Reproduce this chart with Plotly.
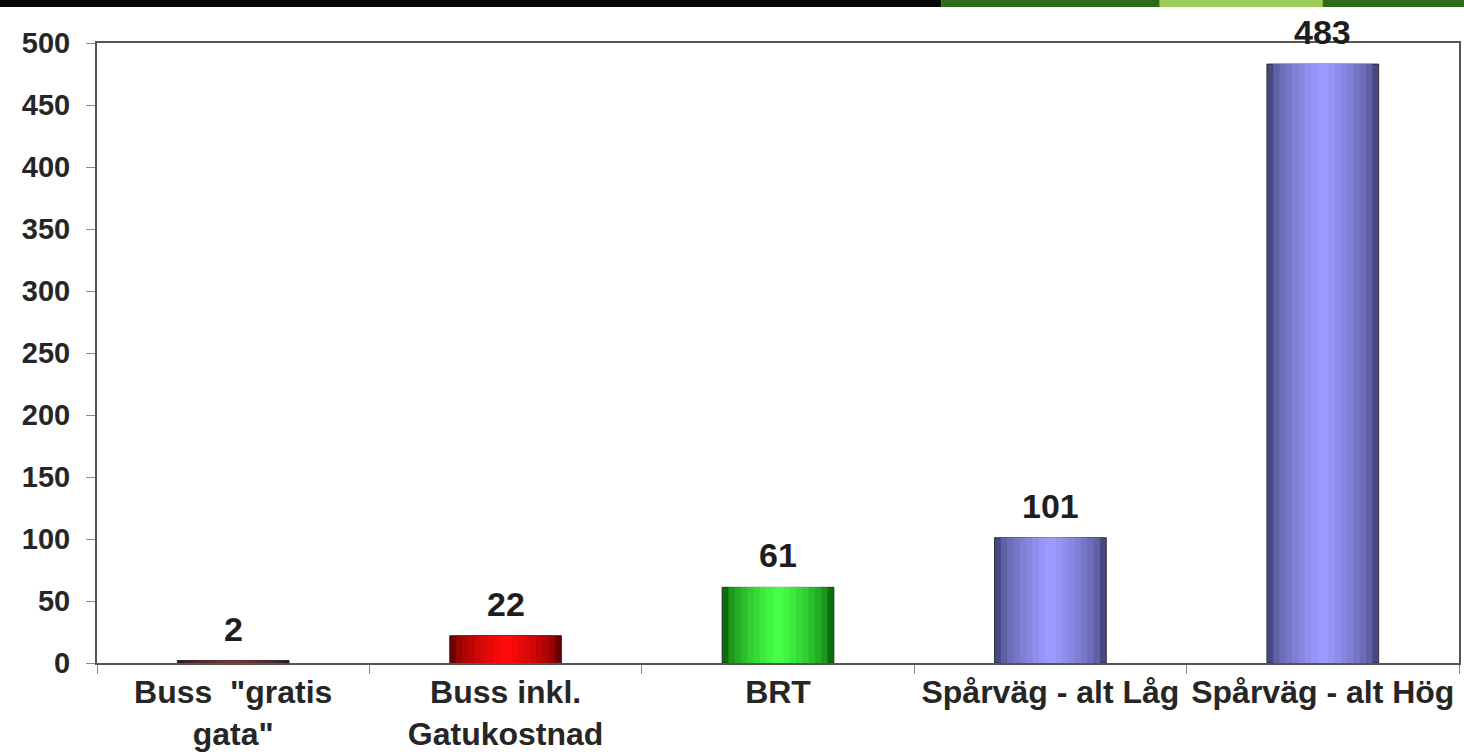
import plotly.graph_objects as go

categories = ['Buss  "gratis<br>gata"', 'Buss inkl.<br>Gatukostnad', 'BRT',
              'Spårväg - alt Låg', 'Spårväg - alt Hög']
values = [2, 22, 61, 101, 483]
labels = ['2', '22', '61', '101', '483']
y_ticks = [0, 50, 100, 150, 200, 250, 300, 350, 400, 450, 500]

# edge and centre colours for each bar (cylinder-like shading)
edge_rgb = [(50, 25, 25), (110, 0, 0), (10, 110, 10), (72, 72, 130), (72, 72, 130)]
center_rgb = [(115, 55, 55), (255, 10, 10), (70, 255, 70), (155, 155, 255), (155, 155, 255)]

FONT = 'Liberation Sans, Arial, sans-serif'
n_layers = 9
bar_w = 0.41

fig = go.Figure()
for i in range(n_layers):
    t = i / (n_layers - 1)
    w = bar_w * (1 - 0.9 * t)
    cols = []
    for e, c in zip(edge_rgb, center_rgb):
        rgb = tuple(round(ev + (cv - ev) * (t ** 0.6)) for ev, cv in zip(e, c))
        cols.append('rgb(%d,%d,%d)' % rgb)
    fig.add_trace(go.Bar(
        x=categories, y=values, width=w,
        marker=dict(color=cols, line=dict(width=1 if i == 0 else 0, color='#2a2a2a')),
        showlegend=False, hoverinfo='skip'))

for cat, v, lab in zip(categories, values, labels):
    fig.add_annotation(x=cat, y=v, text=lab, showarrow=False, yanchor='bottom',
                       yshift=11,
                       font=dict(family=FONT, size=34, color='#1e1e1e', weight='bold'))

fig.update_layout(
    barmode='overlay',
    width=1464, height=756,
    margin=dict(l=97, r=5, t=43, b=93),
    paper_bgcolor='white', plot_bgcolor='white',
    font=dict(family=FONT, color='#2a2a2a'),
    xaxis=dict(showline=True, linecolor='#555555', linewidth=2, mirror=True,
               ticks='outside', tickson='boundaries', ticklen=9, tickcolor='#888888',
               tickangle=0, automargin=False,
               tickfont=dict(family=FONT, size=32, color='#262626', weight='bold'),
               showgrid=False, range=[-0.5, 4.5]),
    yaxis=dict(range=[0, 500], tickvals=y_ticks, showline=True, linecolor='#555555',
               linewidth=2, mirror=True, ticks='outside', ticklen=9, tickcolor='#888888',
               ticklabelstandoff=10, automargin=False,
               tickfont=dict(family=FONT, size=29, color='#262626', weight='bold'),
               showgrid=False, zeroline=False),
    shapes=[
        dict(type='rect', xref='paper', yref='paper', x0=-0.08, x1=0.62,
             y0=1 + 36 / 620, y1=1 + 43 / 620, fillcolor='#050805', line_width=0, layer='above'),
        dict(type='rect', xref='paper', yref='paper', x0=0.62, x1=1.01,
             y0=1 + 36 / 620, y1=1 + 43 / 620, fillcolor='#2f6a1a', line_width=0, layer='above'),
        dict(type='rect', xref='paper', yref='paper', x0=0.78, x1=0.90,
             y0=1 + 36 / 620, y1=1 + 43 / 620, fillcolor='#9ccc5a', line_width=0, layer='above'),
    ],
)

fig.write_html("out.html")
